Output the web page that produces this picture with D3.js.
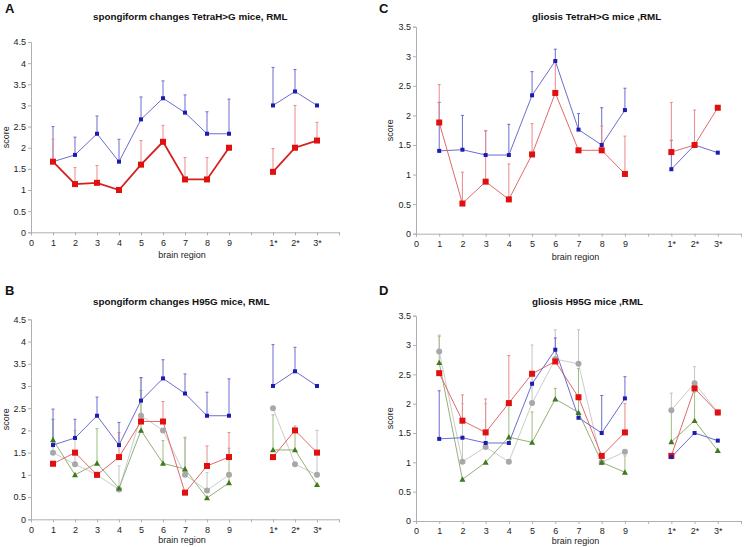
<!DOCTYPE html>
<html><head><meta charset="utf-8">
<script src="https://cdn.jsdelivr.net/npm/d3@7"></script>
<style>body{margin:0;background:#fff;}svg{display:block;font-family:"Liberation Sans",Arial,sans-serif;}</style>
</head><body>
<svg id="c" width="745" height="547"></svg>
<script>
// ---- data ----
const xPos = [1,2,3,4,5,6,7,8,9,11,12,13];
const xLabels = ["1","2","3","4","5","6","7","8","9","1*","2*","3*"];
const yTicksSpong = [0,0.5,1,1.5,2,2.5,3,3.5,4,4.5];
const yTicksGlio = [0,0.5,1,1.5,2,2.5,3,3.5];

// A: spongiform TetraH>G
const aBlue   = [1.67,1.83,2.33,1.67,2.67,3.17,2.83,2.33,2.33,3.0,3.33,3.0];
const aBlueHi = [2.5,2.25,2.75,2.2,3.2,3.58,3.25,2.85,3.15,3.9,3.85,null];
const aRed    = [1.67,1.14,1.17,1.0,1.6,2.14,1.25,1.25,2.0,1.43,2.0,2.17];
const aRedHi  = [2.2,1.53,1.58,null,2.17,2.53,1.77,1.77,null,1.98,3.0,2.6];

// B: spongiform H95G
const bBlue    = [1.67,1.83,2.33,1.67,2.67,3.17,2.83,2.33,2.33,3.0,3.33,3.0];
const bBlueHi  = [2.48,2.25,2.75,2.18,3.19,3.59,3.27,2.86,3.16,3.93,3.87,null];
const bRed     = [1.25,1.5,1.0,1.4,2.2,2.2,0.6,1.2,1.4,1.4,2.0,1.5];
const bRedHi   = [null,null,null,1.95,null,2.65,null,1.65,1.95,null,null,null];
const bGray    = [1.5,1.24,1.0,0.67,2.33,2.0,1.0,0.65,1.0,2.5,1.24,1.0];
const bGrayHi  = [2.25,2.0,null,1.2,3.17,null,1.85,1.05,null,null,null,2.0];
const bGreen   = [1.79,1.0,1.26,0.7,2.0,1.26,1.13,0.48,0.82,1.56,1.56,0.78];
const bGreenHi = [2.25,null,2.04,null,2.9,1.77,1.83,null,1.6,2.35,2.1,null];

// C: gliosis TetraH>G
const cBlue   = [1.4,1.42,1.33,1.33,2.34,2.92,1.76,1.5,2.09,1.09,1.5,1.37];
const cBlueHi = [2.22,2.0,1.74,1.85,2.74,3.12,2.03,2.13,2.46,1.58,null,null];
const cRed    = [1.88,0.51,0.88,0.58,1.34,2.38,1.41,1.41,1.01,1.38,1.5,2.13];
const cRedHi  = [2.52,1.04,1.74,1.18,1.86,2.9,null,1.82,1.65,2.22,2.09,null];

// D: gliosis H95G
const dBlue    = [1.4,1.42,1.33,1.33,2.34,2.92,1.76,1.5,2.09,1.09,1.5,1.37];
const dBlueHi  = [2.22,null,null,null,null,3.12,null,2.14,2.46,null,null,null];
const dRed     = [2.52,1.71,1.51,2.01,2.51,2.72,2.11,1.11,1.51,1.11,2.26,1.85];
const dRedHi   = [null,2.15,2.08,2.82,null,null,null,null,2.0,null,null,null];
const dGray    = [2.89,1.01,1.26,1.01,2.01,2.76,2.68,1.0,1.18,1.89,2.35,1.85];
const dGrayHi  = [3.17,2.0,2.0,null,3.0,3.26,3.26,null,null,2.18,2.63,null];
const dGreen   = [2.7,0.71,1.0,1.43,1.34,2.08,1.85,1.0,0.83,1.35,1.71,1.2];
const dGreenHi = [3.15,null,null,2.0,1.86,2.26,2.6,null,1.11,1.9,2.2,null];

// ---- styles ----
const S = {
  blue:  {line:"#6c6cd0", mark:"#1c1cb0", err:"#6c6cd0", shape:"sq", size:4, lw:1},
  red:   {line:"#e06a6a", mark:"#e01010", err:"#e88a8a", shape:"sq", size:6, lw:1},
  redA:  {line:"#d42020", mark:"#e01010", err:"#e88a8a", shape:"sq", size:6, lw:1.8},
  gray:  {line:"#cccccc", mark:"#a8a8a8", err:"#c4c4c4", shape:"circ", size:6, lw:1},
  green: {line:"#94b078", mark:"#3c7a1c", err:"#a0bc80", shape:"tri", size:6, lw:1}
};

const svg = d3.select("#c");

function panel(o){
  const g = svg.append("g");
  const x = d3.scaleLinear().domain([0,14]).range([o.left,o.right]);
  const y = d3.scaleLinear().domain([0,o.ymax]).range([o.bottom,o.top]);
  const ya = d3.axisLeft(y).tickValues(o.yticks).tickSize(3).tickFormat(d3.format("~g"));
  const xa = d3.axisBottom(x).tickValues(d3.range(0,15)).tickSize(3)
    .tickFormat(d=>{ if(d<=9) return String(d); const i=xPos.indexOf(d); return i>=0?xLabels[i]:""; });
  const gy = g.append("g").attr("transform",`translate(${o.left},0)`).call(ya);
  const gx = g.append("g").attr("transform",`translate(0,${o.bottom})`).call(xa);
  [gy,gx].forEach(a=>{
    a.selectAll("path,line").attr("stroke","#b0b0b0");
    a.selectAll("text").attr("fill","#222").style("font-size","9px");
  });
  gy.selectAll("text").attr("x",-5);
  gx.selectAll("text").attr("y",7);
  g.append("text").attr("x",o.lx).attr("y",o.ly).text(o.letter)
    .style("font-weight","bold").style("font-size","13px").attr("fill","#111");
  g.append("text").attr("x",o.tx).attr("y",o.ty).text(o.title)
    .style("font-weight","bold").style("font-size","9.8px").attr("fill","#111");
  g.append("text").attr("transform",`translate(${o.sx},${(o.top+o.bottom)/2}) rotate(-90)`)
    .attr("text-anchor","middle").text("score").style("font-size","9px").attr("fill","#222");
  g.append("text").attr("x",(o.left+o.right)/2-3).attr("y",o.bottom+o.bry).attr("text-anchor","middle")
    .text("brain region").style("font-size","9px").attr("fill","#222");

  o.series.forEach(s=>{
    const st = S[s.style];
    const pts = s.vals.map((v,i)=>({x:xPos[i],v,hi:s.hi[i]}));
    pts.filter(p=>p.hi!=null).forEach(p=>{
      g.append("line").attr("x1",x(p.x)).attr("x2",x(p.x)).attr("y1",y(p.v)).attr("y2",y(p.hi))
        .attr("stroke",st.err).attr("stroke-width",1);
      g.append("line").attr("x1",x(p.x)-1.5).attr("x2",x(p.x)+1.5).attr("y1",y(p.hi)).attr("y2",y(p.hi))
        .attr("stroke",st.err).attr("stroke-width",1);
    });
  });
  o.series.forEach(s=>{
    const st = S[s.style];
    const pts = s.vals.map((v,i)=>({x:xPos[i],v}));
    const line = d3.line().x(p=>x(p.x)).y(p=>y(p.v));
    [pts.slice(0,9),pts.slice(9)].forEach(seg=>{
      g.append("path").attr("d",line(seg)).attr("fill","none")
        .attr("stroke",st.line).attr("stroke-width",st.lw);
    });
  });
  o.series.forEach(s=>{
    const st = S[s.style];
    s.vals.forEach((v,i)=>{
      const cx=x(xPos[i]), cy=y(v), r=st.size/2;
      if(st.shape==="sq") g.append("rect").attr("x",cx-r).attr("y",cy-r).attr("width",st.size).attr("height",st.size).attr("fill",st.mark);
      else if(st.shape==="circ") g.append("circle").attr("cx",cx).attr("cy",cy).attr("r",r).attr("fill",st.mark);
      else g.append("path").attr("d",`M${cx},${cy-r}L${cx+r},${cy+r*0.8}L${cx-r},${cy+r*0.8}Z`).attr("fill",st.mark);
    });
  });
}

panel({left:31,right:339,top:42,bottom:232.3,ymax:4.5,yticks:yTicksSpong,bry:26,
  letter:"A",lx:5,ly:13,title:"spongiform changes TetraH>G mice, RML",tx:93,ty:20,sx:9,
  series:[{vals:aBlue,hi:aBlueHi,style:"blue"},{vals:aRed,hi:aRedHi,style:"redA"}]});
panel({left:31,right:339,top:319.3,bottom:519.3,ymax:4.5,yticks:yTicksSpong,bry:24,
  letter:"B",lx:5,ly:295,title:"spongiform changes H95G mice, RML",tx:93,ty:305,sx:9,
  series:[{vals:bGray,hi:bGrayHi,style:"gray"},{vals:bGreen,hi:bGreenHi,style:"green"},
          {vals:bRed,hi:bRedHi,style:"red"},{vals:bBlue,hi:bBlueHi,style:"blue"}]});
panel({left:416,right:741,top:26.7,bottom:233.7,ymax:3.5,yticks:yTicksGlio,bry:26,
  letter:"C",lx:379,ly:13,title:"gliosis TetraH>G mice ,RML",tx:532,ty:20,sx:393,
  series:[{vals:cBlue,hi:cBlueHi,style:"blue"},{vals:cRed,hi:cRedHi,style:"red"}]});
panel({left:416,right:741,top:315.7,bottom:521,ymax:3.5,yticks:yTicksGlio,bry:23,
  letter:"D",lx:379,ly:295,title:"gliosis H95G mice ,RML",tx:532,ty:305,sx:393,
  series:[{vals:dGray,hi:dGrayHi,style:"gray"},{vals:dGreen,hi:dGreenHi,style:"green"},
          {vals:dRed,hi:dRedHi,style:"red"},{vals:dBlue,hi:dBlueHi,style:"blue"}]});
</script>
</body></html>
